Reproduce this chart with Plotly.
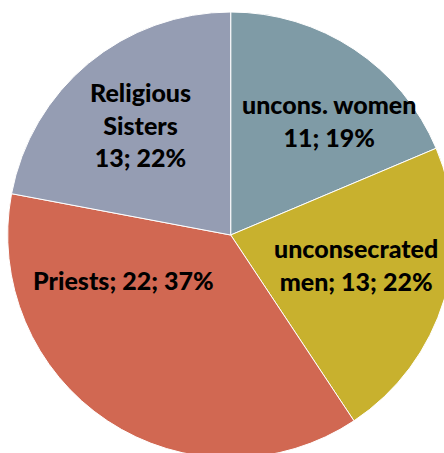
import plotly.graph_objects as go

# Survey breakdown by group
groups = ["uncons. women", "unconsecrated men", "Priests", "Religious Sisters"]
counts = [11, 13, 22, 13]
colors = ["#7F9BA6", "#C8B12E", "#D16852", "#959DB3"]

# Canvas is a little larger than the visible page so the pie can run past the edges
W, H = 456, 460
total = sum(counts)
pct = [round(100 * c / total) for c in counts]

# Label text per slice
label_text = [
    f"uncons. women<br>{counts[0]}; {pct[0]}%",
    f"unconsecrated<br>men; {counts[1]}; {pct[1]}%",
    f"Priests; {counts[2]}; {pct[2]}%",
    f"Religious<br>Sisters<br>{counts[3]}; {pct[3]}%",
]
# Label centres in pixels
label_pos = [(329, 121), (356, 264), (123, 280), (140, 124)]

# Pie box in pixels: left, right, top, bottom
px0, px1, py0, py1 = 7.7, 453.7, 12.0, 458.0

fig = go.Figure(
    go.Pie(
        labels=groups,
        values=counts,
        sort=False,
        direction="clockwise",
        rotation=0,
        marker=dict(colors=colors, line=dict(color="#FFFFFF", width=1)),
        textinfo="none",
        hoverinfo="label+value+percent",
        showlegend=False,
        domain=dict(x=[px0 / W, px1 / W], y=[1 - py1 / H, 1 - py0 / H]),
    )
)

for txt, (px, py) in zip(label_text, label_pos):
    fig.add_annotation(
        text=txt,
        x=px / W,
        y=1 - py / H,
        xref="paper",
        yref="paper",
        showarrow=False,
        xanchor="center",
        yanchor="middle",
        align="center",
        font=dict(family="Lato", size=25, color="#000000", weight=900),
    )

fig.update_layout(
    width=W,
    height=H,
    autosize=False,
    margin=dict(l=0, r=0, t=0, b=0),
    paper_bgcolor="#FFFFFF",
    plot_bgcolor="#FFFFFF",
)

fig.write_html(
    "out.html",
    post_script="document.body.style.margin='0';document.body.style.overflow='hidden';",
)
